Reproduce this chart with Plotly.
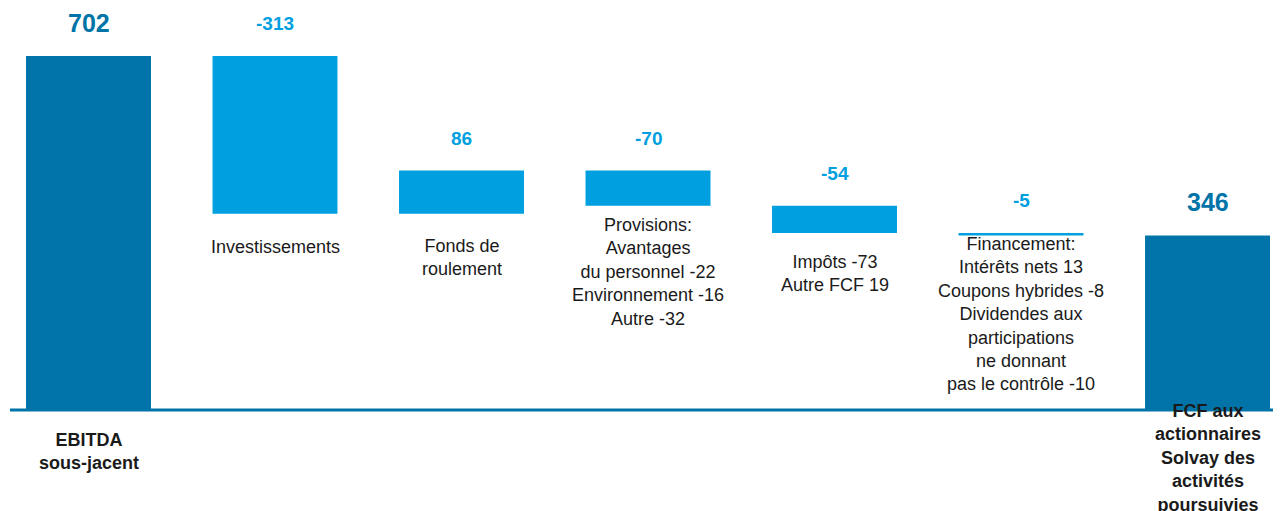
import plotly.graph_objects as go

# Données du pont EBITDA -> FCF
categories = [
    "EBITDA<br>sous-jacent",
    "Investissements",
    "Fonds de<br>roulement",
    "Provisions:<br>Avantages<br>du personnel -22<br>Environnement -16<br>Autre -32",
    "Impôts -73<br>Autre FCF 19",
    "Financement:<br>Intérêts nets 13<br>Coupons hybrides -8<br>Dividendes aux<br>participations<br>ne donnant<br>pas le contrôle -10",
    "FCF aux<br>actionnaires<br>Solvay des<br>activités<br>poursuivies",
]
values = [702, -313, 86, -70, -54, -5, 346]
measures = ["absolute", "relative", "relative", "relative", "relative", "relative", "total"]

DARK = "#0074A8"
LIGHT = "#009FE0"
TEXT = "#1a1a1a"
FONT = "Liberation Sans, Arial, sans-serif"

# écart (px) entre le bas de la barre et le centre de la 1re ligne du libellé
LABEL_GAP = [30, 33, 32, 19, 29, 9, 1]

# la page html ajoute une marge de 8 px : la figure fait donc 1273 x 503
W, H = 1273, 503

# bases / hauteurs des barres
bases, heights = [], []
running = 0
for v, m in zip(values, measures):
    if m == "absolute":
        bases.append(0)
        heights.append(v)
        running = v
    elif m == "total":
        bases.append(0)
        heights.append(running)
    else:
        bases.append(running)
        heights.append(v)
        running += v

xs = list(range(len(values)))
colors = [DARK if m != "relative" else LIGHT for m in measures]

fig = go.Figure()
fig.add_trace(go.Bar(
    x=xs, y=heights, base=bases,
    marker=dict(color=colors, line=dict(width=0)),
    width=0.67,
    hoverinfo="skip",
))

for i, (v, m) in enumerate(zip(values, measures)):
    top = max(bases[i], bases[i] + heights[i])
    bottom = min(bases[i], bases[i] + heights[i])
    total = m != "relative"
    # valeur au-dessus de la barre
    fig.add_annotation(
        x=xs[i], y=top, yshift=33 if total else 32, yanchor="middle",
        text=f"<b>{v}</b>", showarrow=False,
        font=dict(family=FONT, size=25 if total else 19, color=colors[i]),
    )
    # libellé sous la barre
    ref = 0 if total else bottom
    lbl = f"<b>{categories[i]}</b>" if total else categories[i]
    fig.add_annotation(
        x=xs[i], y=ref, yshift=-(LABEL_GAP[i] - 12), yanchor="top",
        text=lbl, showarrow=False, align="center",
        font=dict(family=FONT, size=18, color=TEXT),
    )

# ligne de base
fig.add_shape(
    type="line", xref="paper", yref="y",
    x0=2 / W, x1=1, y0=0, y1=0,
    line=dict(color=DARK, width=3),
)

fig.update_layout(
    width=W, height=H,
    margin=dict(l=0, r=0, t=0, b=0),
    plot_bgcolor="white", paper_bgcolor="white",
    showlegend=False,
    xaxis=dict(range=[-0.4316, 6.394], visible=False),
    yaxis=dict(range=[-200.3, 797.1], visible=False),
    font=dict(family=FONT),
)

fig.write_html("out.html")
